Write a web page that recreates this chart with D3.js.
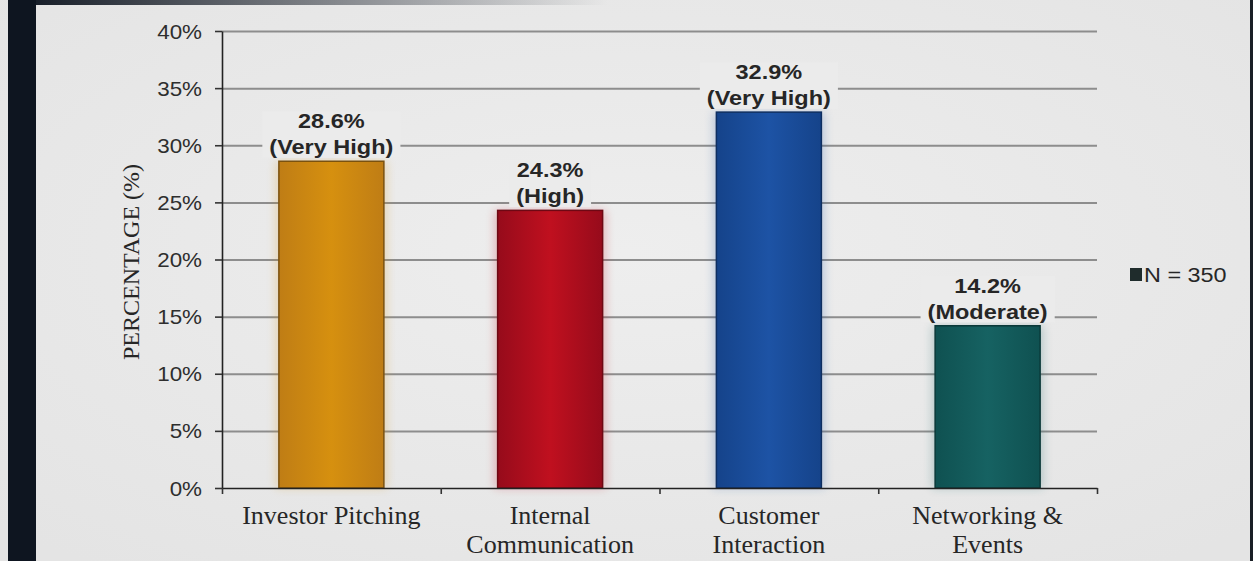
<!DOCTYPE html>
<html><head><meta charset="utf-8">
<script src="https://cdn.jsdelivr.net/npm/d3@7"></script>
<style>body{margin:0;background:#e7e7e7;overflow:hidden} svg{display:block}</style>
</head><body>
<svg id="chart" width="1253" height="561"></svg>
<script>
// ---- data ----
const categories = ["Investor Pitching", "Internal Communication", "Customer Interaction", "Networking & Events"];
const categoryLines = [["Investor Pitching"], ["Internal", "Communication"], ["Customer", "Interaction"], ["Networking &", "Events"]];
const values = [28.6, 24.3, 32.9, 14.2];
const levels = ["Very High", "High", "Very High", "Moderate"];
const yTicks = [0, 5, 10, 15, 20, 25, 30, 35, 40];
const yTitle = "PERCENTAGE (%)";
const legendLabel = "N = 350";
const barColors = [
  {edge: "#bf7d15", mid: "#d6900f", stroke: "#7a5210"},
  {edge: "#960b1b", mid: "#c0101f", stroke: "#6e0814"},
  {edge: "#15438a", mid: "#1d53a5", stroke: "#0e2e60"},
  {edge: "#0f5151", mid: "#166262", stroke: "#0b3838"}
];

(function () {
// ---- layout ----
const W = 1253, H = 561;
const pL = 222, pR = 1097, pT = 31, pB = 488;
const svg = d3.select("#chart");
const defs = svg.append("defs");

const bg = defs.append("radialGradient").attr("id", "bg").attr("cx", "50%").attr("cy", "45%").attr("r", "70%");
bg.append("stop").attr("offset", "0%").attr("stop-color", "#eeeeee");
bg.append("stop").attr("offset", "100%").attr("stop-color", "#e4e4e4");
svg.append("rect").attr("width", W).attr("height", H).attr("fill", "url(#bg)");

// frame edges
svg.append("rect").attr("x", 8).attr("y", 0).attr("width", 28).attr("height", H).attr("fill", "#0e1520");
const tg = defs.append("linearGradient").attr("id", "topfade");
tg.append("stop").attr("offset", "0%").attr("stop-color", "#0e1520").attr("stop-opacity", 1);
tg.append("stop").attr("offset", "100%").attr("stop-color", "#0e1520").attr("stop-opacity", 0);
svg.append("rect").attr("x", 8).attr("y", 0).attr("width", 600).attr("height", 5).attr("fill", "url(#topfade)");
svg.append("rect").attr("x", 1250).attr("y", 0).attr("width", 3).attr("height", H).attr("fill", "#1a1f26");

const x = d3.scaleBand().domain(categories).range([pL, pR]).paddingInner(0.52).paddingOuter(0.26);
const y = d3.scaleLinear().domain([0, 40]).range([pB, pT]);
const xb = d3.scaleLinear().domain([0, categories.length]).range([pL, pR]);

// gridlines
const grid = svg.append("g").attr("transform", `translate(${pL},0)`)
  .call(d3.axisLeft(y).tickValues(yTicks.filter(d => d > 0)).tickSize(-(pR - pL)).tickFormat(""));
grid.select(".domain").remove();
grid.selectAll("line").attr("stroke", "#8d8d8d").attr("stroke-width", 2);

// bar gradients and glow
barColors.forEach((c, i) => {
  const g = defs.append("linearGradient").attr("id", "bar" + i);
  g.append("stop").attr("offset", "0%").attr("stop-color", c.edge);
  g.append("stop").attr("offset", "50%").attr("stop-color", c.mid);
  g.append("stop").attr("offset", "100%").attr("stop-color", c.edge);
});
const glow = defs.append("filter").attr("id", "glow").attr("x", "-30%").attr("y", "-10%").attr("width", "160%").attr("height", "120%");
glow.append("feGaussianBlur").attr("stdDeviation", 5);

const data = categories.map((c, i) => ({c, v: values[i], lvl: levels[i], i}));

svg.append("g").selectAll("rect").data(data).join("rect")
  .attr("x", d => x(d.c) - 3).attr("y", d => y(d.v))
  .attr("width", x.bandwidth() + 6).attr("height", d => y(0) - y(d.v))
  .attr("fill", d => barColors[d.i].mid).attr("opacity", 0.25).attr("filter", "url(#glow)");

svg.append("g").selectAll("rect").data(data).join("rect")
  .attr("x", d => x(d.c)).attr("y", d => y(d.v))
  .attr("width", x.bandwidth()).attr("height", d => y(0) - y(d.v))
  .attr("fill", d => `url(#bar${d.i})`)
  .attr("stroke", d => barColors[d.i].stroke).attr("stroke-width", 1.5);

// y axis
const sx = 1.12;
const yAxis = svg.append("g").attr("transform", `translate(${pL},0)`)
  .call(d3.axisLeft(y).tickValues(yTicks).tickFormat(d => d + "%").tickSize(7).tickSizeOuter(0).tickPadding(0));
yAxis.select(".domain").attr("stroke", "#222").attr("stroke-width", 1.6);
yAxis.selectAll(".tick line").attr("stroke", "#333").attr("stroke-width", 1.6);
yAxis.selectAll(".tick text")
  .attr("x", null).attr("dy", null)
  .attr("transform", `translate(-20,0) scale(${sx},1)`)
  .attr("dominant-baseline", "central")
  .style("font-family", "'Liberation Sans', Arial, sans-serif").style("font-size", "20px").attr("fill", "#2e2e2e");

// x axis (category boundary ticks)
const xAxis = svg.append("g").attr("transform", `translate(0,${pB})`)
  .call(d3.axisBottom(xb).tickValues(d3.range(categories.length + 1)).tickFormat("").tickSize(6).tickSizeOuter(0));
xAxis.select(".domain").attr("stroke", "#222").attr("stroke-width", 1.6);
xAxis.selectAll(".tick line").attr("stroke", "#333").attr("stroke-width", 1.6);

// category labels
const catG = svg.append("g").selectAll("text").data(data).join("text")
  .attr("x", d => x(d.c) + x.bandwidth() / 2).attr("y", 524)
  .attr("text-anchor", "middle")
  .style("font-family", "'Liberation Serif', 'Times New Roman', serif").style("font-size", "26px").attr("fill", "#262626");
catG.selectAll("tspan").data(d => categoryLines[d.i].map(t => ({t, cx: x(d.c) + x.bandwidth() / 2}))).join("tspan")
  .attr("x", d => d.cx)
  .attr("dy", (d, j) => j === 0 ? 0 : 29).text(d => d.t);

// y title
svg.append("text").attr("transform", "translate(139,262) rotate(-90)")
  .attr("text-anchor", "middle")
  .style("font-family", "'Liberation Serif', 'Times New Roman', serif").style("font-size", "24px").attr("fill", "#262626")
  .text(yTitle);

// value labels
const lab = svg.append("g").selectAll("g").data(data).join("g")
  .attr("transform", d => `translate(${x(d.c) + x.bandwidth() / 2},${y(d.v)})`);
const labRect = lab.append("rect").attr("fill", "#ebebeb");
const labInner = lab.append("g").attr("transform", `scale(${sx},1)`);
labInner.append("text").attr("y", -33).attr("text-anchor", "middle")
  .style("font-family", "'Liberation Sans', Arial, sans-serif").style("font-size", "21px").style("font-weight", "bold").attr("fill", "#262626")
  .text(d => d.v + "%");
labInner.append("text").attr("y", -7).attr("text-anchor", "middle")
  .style("font-family", "'Liberation Sans', Arial, sans-serif").style("font-size", "21px").style("font-weight", "bold").attr("fill", "#262626")
  .text(d => `(${d.lvl})`);
labRect.each(function () {
  const b = this.parentNode.querySelector("g").getBBox();
  d3.select(this).attr("x", b.x * sx - 7).attr("y", b.y + 2).attr("width", b.width * sx + 14).attr("height", b.height - 3);
});

// legend
const leg = svg.append("g").attr("transform", "translate(1130,268)");
leg.append("rect").attr("width", 12).attr("height", 13).attr("fill", "#1f2c2c");
leg.append("text").attr("transform", "translate(14,14) scale(1.2,1)")
  .style("font-family", "'Liberation Sans', Arial, sans-serif").style("font-size", "19.5px").attr("fill", "#262626")
  .text(legendLabel);
})();
</script>
</body></html>
